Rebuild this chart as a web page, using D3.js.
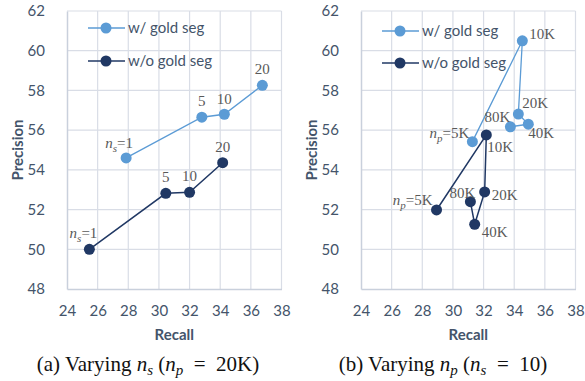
<!DOCTYPE html>
<html>
<head>
<meta charset="utf-8">
<script src="https://cdn.jsdelivr.net/npm/d3@7"></script>
<style>
  body { margin: 0; background: #fff; }
</style>
</head>
<body>
<div id="chart"></div>
<script>
// data
let seriesNames = ["w/ gold seg", "w/o gold seg"];
let nsLabels = ["1", "5", "10", "20"];
let nsGoldRecall = [27.86, 32.8, 34.27, 36.75];
let nsGoldPrec = [54.6, 56.65, 56.8, 58.26];
let nsNoGoldRecall = [25.46, 30.45, 32.0, 34.16];
let nsNoGoldPrec = [50.0, 52.82, 52.87, 54.36];

let npLabels = ["5K", "10K", "20K", "40K", "80K"];
let npGoldRecall = [31.27, 34.53, 34.27, 34.92, 33.75];
let npGoldPrec = [55.42, 60.5, 56.81, 56.3, 56.17];
let npNoGoldRecall = [28.93, 32.18, 32.07, 31.42, 31.14];
let npNoGoldPrec = [51.98, 55.76, 52.89, 51.26, 52.4];

let xTicks = [24, 26, 28, 30, 32, 34, 36, 38];
let yTicks = [48, 50, 52, 54, 56, 58, 60, 62];

let colors = ["#5B9BD5", "#203864"];

const width = 585, height = 381;
const sans = "Lato, 'Open Sans', sans-serif";
const serif = "'Liberation Serif', 'DejaVu Serif', serif";
const svg = d3.select("#chart").append("svg")
  .attr("width", width).attr("height", height)
  .attr("font-family", sans);

function zip(xs, ys, labels) {
  return xs.map((x, i) => ({x: x, y: ys[i], label: labels[i]}));
}

// place: [dx, dy, anchor] for each point's label
function panel(opts) {
  let x = d3.scaleLinear().domain([24, 38]).range([opts.left, opts.left + 214.5]);
  let y = d3.scaleLinear().domain([48, 62]).range([289, 11]);
  let g = svg.append("g");

  // grid
  g.append("g").selectAll("line").data(xTicks.slice(1)).join("line")
    .attr("x1", d => x(d)).attr("x2", d => x(d))
    .attr("y1", y(48)).attr("y2", y(62))
    .attr("stroke", "#D9DDE6").attr("stroke-width", 1.2);
  g.append("g").selectAll("line").data(yTicks.slice(1)).join("line")
    .attr("x1", x(24)).attr("x2", x(38))
    .attr("y1", d => y(d)).attr("y2", d => y(d))
    .attr("stroke", "#D9DDE6").attr("stroke-width", 1.2);

  // axes
  let xAxis = g.append("g")
    .attr("transform", `translate(0,${y(48)})`)
    .call(d3.axisBottom(x).tickValues(xTicks).tickSize(0).tickPadding(16));
  let yAxis = g.append("g")
    .attr("transform", `translate(${x(24)},0)`)
    .call(d3.axisLeft(y).tickValues(yTicks).tickSize(0).tickPadding(22));
  [xAxis, yAxis].forEach(a => {
    a.select(".domain").attr("stroke", "#C9D0DC").attr("stroke-width", 1.5);
    a.selectAll(".tick text").attr("font-size", 15).attr("fill", "#44546A")
      .attr("font-family", sans);
  });

  g.append("text")
    .attr("x", (x(24) + x(38)) / 2).attr("y", 340)
    .attr("text-anchor", "middle").attr("font-size", 15).attr("font-weight", "bold")
    .attr("fill", "#44546A").text("Recall");
  g.append("text")
    .attr("transform", `translate(${opts.left - 44},${y(55)}) rotate(-90)`)
    .attr("text-anchor", "middle").attr("font-size", 15).attr("font-weight", "bold")
    .attr("fill", "#44546A").text("Precision");

  let line = d3.line().x(d => x(d.x)).y(d => y(d.y));
  opts.series.forEach((s, i) => {
    g.append("path").datum(s.pts)
      .attr("fill", "none").attr("stroke", colors[i])
      .attr("stroke-width", i == 0 ? 1.3 : 1.5)
      .attr("d", line);
    g.append("g").selectAll("circle").data(s.pts).join("circle")
      .attr("cx", d => x(d.x)).attr("cy", d => y(d.y)).attr("r", 5.5)
      .attr("fill", colors[i]);
    let lab = g.append("g").selectAll("text").data(s.pts).join("text")
      .attr("x", (d, j) => x(d.x) + s.place[j][0])
      .attr("y", (d, j) => y(d.y) + s.place[j][1])
      .attr("text-anchor", (d, j) => s.place[j][2])
      .attr("font-family", serif)
      .attr("font-size", 15).attr("fill", "#595959");
    lab.each(function(d, j) {
      let t = d3.select(this);
      if (j == 0) {
        t.append("tspan").attr("font-style", "italic").text("n");
        t.append("tspan").attr("font-style", "italic").attr("font-size", 11)
          .attr("dy", 4).text(opts.sub);
        t.append("tspan").attr("dy", -4).text("=" + d.label);
      } else {
        t.text(d.label);
      }
    });
  });

  // legend
  opts.legend.forEach((ly, i) => {
    let lx = opts.left + 21;
    g.append("line").attr("x1", lx).attr("x2", lx + 37)
      .attr("y1", ly).attr("y2", ly).attr("stroke", colors[i])
      .attr("stroke-width", i == 0 ? 1.3 : 1.5);
    g.append("circle").attr("cx", lx + 18).attr("cy", ly).attr("r", 5.5)
      .attr("fill", colors[i]);
    g.append("text").attr("x", lx + 40).attr("y", ly + 5)
      .attr("font-size", 15).attr("fill", "#44546A").text(seriesNames[i]);
  });

  // caption
  let cap = svg.append("text")
    .attr("x", opts.capX).attr("y", 371).attr("text-anchor", "middle")
    .attr("font-family", serif)
    .attr("font-size", 21).attr("fill", "#111");
  cap.append("tspan").text(opts.capPrefix + " Varying ");
  cap.append("tspan").attr("font-style", "italic").text("n");
  cap.append("tspan").attr("font-style", "italic").attr("font-size", 15).attr("dy", 4).text(opts.sub);
  cap.append("tspan").attr("dy", -4).text(" (");
  cap.append("tspan").attr("font-style", "italic").text("n");
  cap.append("tspan").attr("font-style", "italic").attr("font-size", 15).attr("dy", 4).text(opts.otherSub);
  cap.append("tspan").attr("dy", -4).text("\u2002=\u2002" + opts.otherVal + ")");
}

panel({
  left: 67, sub: "s", otherSub: "p", otherVal: "20K", capPrefix: "(a)", capX: 148,
  legend: [28, 61],
  series: [
    {pts: zip(nsGoldRecall, nsGoldPrec, nsLabels),
     place: [[-7, -10, "middle"], [0, -11, "middle"], [0, -10, "middle"], [0, -11, "middle"]]},
    {pts: zip(nsNoGoldRecall, nsNoGoldPrec, nsLabels),
     place: [[8, -11, "end"], [0, -11, "middle"], [0, -11, "middle"], [0, -11, "middle"]]}
  ]
});

panel({
  left: 361, sub: "p", otherSub: "s", otherVal: "10", capPrefix: "(b)", capX: 443,
  legend: [31, 63],
  series: [
    {pts: zip(npGoldRecall, npGoldPrec, npLabels),
     place: [[-3, -4, "end"], [7, -2, "start"], [4, -6, "start"], [0, 14, "start"], [0, -5, "end"]]},
    {pts: zip(npNoGoldRecall, npNoGoldPrec, npLabels),
     place: [[-4, -5, "end"], [1, 17, "start"], [7, 8, "start"], [7, 13, "start"], [5, -4, "end"]]}
  ]
});
</script>
</body>
</html>
